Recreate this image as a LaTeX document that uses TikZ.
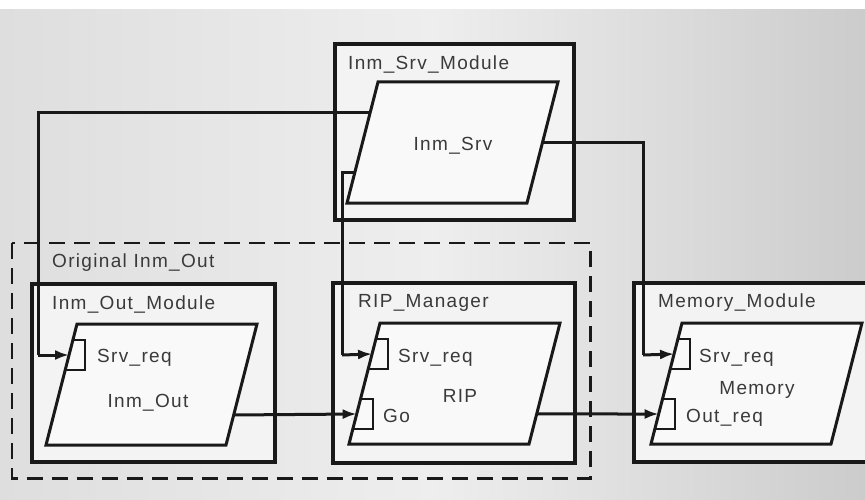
\documentclass[tikz,border=0pt]{standalone}
\usepackage{fontspec}
\setmainfont{Liberation Sans}[LetterSpace=7]
\usetikzlibrary{arrows.meta,calc}

\definecolor{ink}{RGB}{25,25,25}
\definecolor{txt}{RGB}{58,58,58}
\definecolor{bgL}{RGB}{222,222,222}
\definecolor{bgM}{RGB}{238,238,238}
\definecolor{bgR}{RGB}{204,204,204}
\definecolor{paper}{RGB}{243,243,243}

\tikzset{
  module/.style={draw=ink, line width=4.2pt, fill=paper, inner sep=0pt, anchor=north west},
  pline/.style={draw=ink, line width=3pt, fill=paper!50!white, line join=miter},
  portline/.style={draw=ink, line width=2.8pt},
  conn/.style={draw=ink, line width=3pt},
  arr/.style={conn, -{Latex[length=14pt,width=10pt]}},
  dashbox/.style={draw=ink, line width=2.8pt, dash pattern=on 16pt off 9pt},
  lbl/.style={font=\fontsize{19}{22}\selectfont, text=txt, inner sep=0pt, anchor=base west},
  ctr/.style={font=\fontsize{19}{22}\selectfont, text=txt, inner sep=0pt, anchor=base},
  paragram/.pic={
    \coordinate (-tl) at (0,0);
    \coordinate (-tr) at (180,0);
    \coordinate (-br) at (149,121);
    \coordinate (-bl) at (-31,121);
    \path[pline] (0,0) -- (180,0) -- (149,121) -- (-31,121) -- cycle;
  },
  uport/.pic={
    \path[portline] (-4.1,16) -- (8,16) -- (8,46) -- (-11.8,46);
    \coordinate (-in) at (-7.9,31);
  },
  lport/.pic={
    \path[portline] (-19.5,76) -- (-7,76) -- (-7,106) -- (-27.2,106);
    \coordinate (-in) at (-23.3,91);
  },
}

\begin{document}
\begin{tikzpicture}[x=1pt,y=-1pt]
\useasboundingbox (0,0) rectangle (865,500);
\clip (0,0) rectangle (865,500);

% background
\shade[left color=bgL, right color=bgR, middle color=bgM, draw=none] (0,9) rectangle (865,500);
\fill[white] (0,0) rectangle (865,9);

% dashed group
\node[draw=none, inner sep=0pt, anchor=north west, minimum width=578pt, minimum height=235pt] (grp) at (12,243) {};
\draw[dashbox] (grp.north west) rectangle (grp.south east);

% modules
\node[module, minimum width=239pt, minimum height=176pt] (srvmod) at (333,42) {};
\node[module, minimum width=243pt, minimum height=178pt] (outmod) at (30,282) {};
\node[module, minimum width=242pt, minimum height=180pt] (ripmod) at (331,281) {};
\node[module, minimum width=270pt, minimum height=179pt] (memmod) at (632,281) {};

% parallelograms
\pic (srv) at (378,82) {paragram};
\pic (io)  at (77,324) {paragram};
\pic (rip) at (380,323) {paragram};
\pic (mem) at (682,323) {paragram};

% ports
\pic (ioS)  at (77,324) {uport};
\pic (ripS) at (380,323) {uport};
\pic (ripG) at (380,323) {lport};
\pic (memS) at (682,323) {uport};
\pic (memG) at (682,323) {lport};

% connector end points on parallelogram edges
\coordinate (srvL1) at ($(srv-tl)!0.248!(srv-bl)$);
\coordinate (srvL2) at ($(srv-tl)!0.752!(srv-bl)$);
\coordinate (srvR)  at ($(srv-tr)!0.504!(srv-br)$);
\coordinate (ioR)   at ($(io-tr)!0.752!(io-br)$);
\coordinate (ripR)  at ($(rip-tr)!0.752!(rip-br)$);

\coordinate (bendA) at (38,355);
\coordinate (bendB) at (342,355);
\coordinate (bendC) at (643,355);

% connectors
\draw[conn] (srvL1) -| (bendA);
\draw[arr] (bendA) -- (ioS-in);
\draw[conn] (srvL2) -| (bendB);
\draw[arr] (bendB) -- (ripS-in);
\draw[conn] (srvR) -| (bendC);
\draw[arr] (bendC) -- (memS-in);
\draw[arr] (ioR) -- (ripG-in);
\draw[arr] (ripR) -- (memG-in);

% labels
\node[lbl] (tSrvMod) at (348,70) {Inm\_Srv\_Module};
\node[lbl] (tGrp)    at (52,267) {Original Inm\_Out};
\node[lbl] (tOutMod) at (52,309) {Inm\_Out\_Module};
\node[lbl] (tRipMod) at (358,307) {RIP\_Manager};
\node[lbl] (tMemMod) at (658,307) {Memory\_Module};

\node[ctr] (tSrv) at (453,150) {Inm\_Srv};
\node[ctr] (tOut) at (148,407) {Inm\_Out};
\node[ctr] (tRip) at (460,402) {RIP};
\node[ctr] (tMem) at (757,394) {Memory};

\node[lbl] (pIoS)  at (97,362)  {Srv\_req};
\node[lbl] (pRipS) at (398,362) {Srv\_req};
\node[lbl] (pRipG) at (383,422) {Go};
\node[lbl] (pMemS) at (699,362) {Srv\_req};
\node[lbl] (pMemG) at (686,422) {Out\_req};
\end{tikzpicture}
\end{document}
